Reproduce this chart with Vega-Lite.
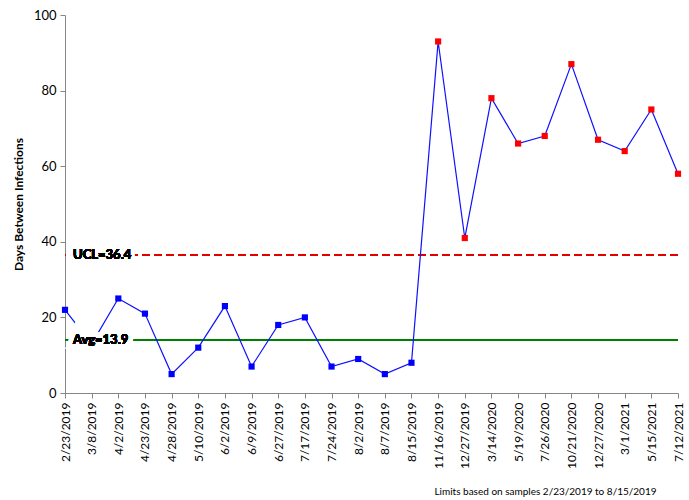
{
  "$schema": "https://vega.github.io/schema/vega-lite/v6.json",
  "width": 613,
  "height": 378,
  "autosize": "none",
  "padding": {"left": 65, "top": 15, "right": 11, "bottom": 107},
  "config": {
    "view": {"stroke": null},
    "font": "Lato",
    "axis": {"domainColor": "#868686", "tickColor": "#868686", "labelColor": "#000000", "labelFont": "Lato", "titleFont": "Lato", "grid": false}
  },
  "data": {
    "values": [
      {"date": "2/23/2019", "days": 22, "status": "in"},
      {"date": "3/8/2019", "days": 13, "status": "in"},
      {"date": "4/2/2019", "days": 25, "status": "in"},
      {"date": "4/23/2019", "days": 21, "status": "in"},
      {"date": "4/28/2019", "days": 5, "status": "in"},
      {"date": "5/10/2019", "days": 12, "status": "in"},
      {"date": "6/2/2019", "days": 23, "status": "in"},
      {"date": "6/9/2019", "days": 7, "status": "in"},
      {"date": "6/27/2019", "days": 18, "status": "in"},
      {"date": "7/17/2019", "days": 20, "status": "in"},
      {"date": "7/24/2019", "days": 7, "status": "in"},
      {"date": "8/2/2019", "days": 9, "status": "in"},
      {"date": "8/7/2019", "days": 5, "status": "in"},
      {"date": "8/15/2019", "days": 8, "status": "in"},
      {"date": "11/16/2019", "days": 93, "status": "out"},
      {"date": "12/27/2019", "days": 41, "status": "out"},
      {"date": "3/14/2020", "days": 78, "status": "out"},
      {"date": "5/19/2020", "days": 66, "status": "out"},
      {"date": "7/26/2020", "days": 68, "status": "out"},
      {"date": "10/21/2020", "days": 87, "status": "out"},
      {"date": "12/27/2020", "days": 67, "status": "out"},
      {"date": "3/1/2021", "days": 64, "status": "out"},
      {"date": "5/15/2021", "days": 75, "status": "out"},
      {"date": "7/12/2021", "days": 58, "status": "out"}
    ]
  },
  "encoding": {
    "x": {
      "field": "date", "type": "ordinal", "sort": null,
      "scale": {"type": "point", "padding": 0},
      "axis": {
        "labelAngle": 270, "labelFontSize": 12, "labelPadding": 4, "tickSize": 5,
        "title": "Limits based on samples 2/23/2019 to 8/15/2019",
        "titleFontSize": 10, "titleFontWeight": "normal", "titleAlign": "right",
        "titlePadding": 18, "titleX": 591
      }
    },
    "y": {
      "field": "days", "type": "quantitative",
      "scale": {"domain": [0, 100]},
      "axis": {
        "values": [0, 20, 40, 60, 80, 100], "labelFontSize": 13, "tickSize": 5, "labelPadding": 4,
        "title": "Days Between Infections", "titleFontSize": 12, "titleFontWeight": "bold", "titlePadding": 8
      }
    }
  },
  "layer": [
    {"mark": {"type": "rule", "color": "#e00000", "strokeDash": [8, 4], "strokeWidth": 1.2}, "encoding": {"y": {"datum": 36.4}, "x": null}},
    {"mark": {"type": "rule", "color": "#008000", "strokeWidth": 1.2}, "encoding": {"y": {"datum": 13.9}, "x": null}},
    {"mark": {"type": "line", "color": "#1010ff", "strokeWidth": 1.2}},
    {"mark": {"type": "square", "opacity": 1, "size": 38}, "encoding": {"color": {"field": "status", "type": "nominal", "scale": {"domain": ["in", "out"], "range": ["#0000ff", "#ff0000"]}, "legend": null}}},
    {"mark": {"type": "text", "align": "left", "baseline": "middle", "dx": 8, "fontSize": 13, "fontWeight": "bold", "stroke": "white", "strokeWidth": 10, "fill": "white"}, "encoding": {"x": {"datum": "2/23/2019"}, "y": {"datum": 13.9}, "text": {"value": "Avg=13.9"}}},
    {"mark": {"type": "text", "align": "left", "baseline": "middle", "dx": 8, "fontSize": 13, "fontWeight": "bold", "stroke": "white", "strokeWidth": 6, "fill": "white"}, "encoding": {"x": {"datum": "2/23/2019"}, "y": {"datum": 36.4}, "text": {"value": "UCL=36.4"}}},
    {"mark": {"type": "text", "align": "left", "baseline": "middle", "dx": 8, "fontSize": 13, "fontWeight": "bold", "color": "#000000"}, "encoding": {"x": {"datum": "2/23/2019"}, "y": {"datum": 13.9}, "text": {"value": "Avg=13.9"}}},
    {"mark": {"type": "text", "align": "left", "baseline": "middle", "dx": 8, "fontSize": 13, "fontWeight": "bold", "color": "#000000"}, "encoding": {"x": {"datum": "2/23/2019"}, "y": {"datum": 36.4}, "text": {"value": "UCL=36.4"}}}
  ]
}
